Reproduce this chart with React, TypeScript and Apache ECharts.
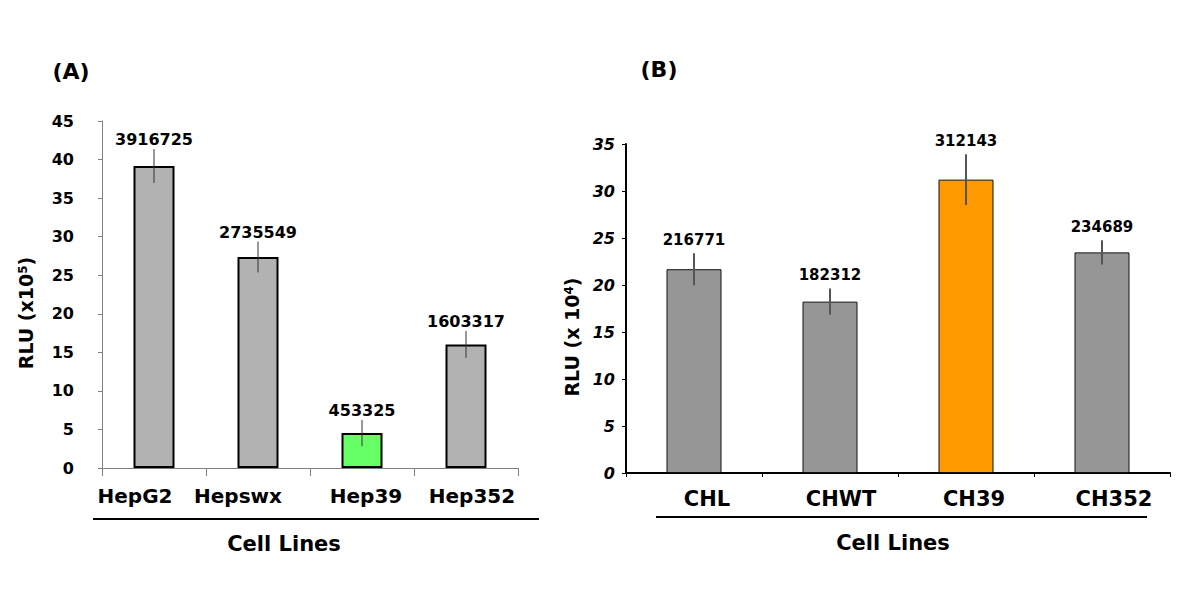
import React, { useEffect, useRef } from "react";
import * as echarts from "echarts";

// Panel A data
const catsA = ["HepG2", "Hepswx", "Hep39", "Hep352"];
const labelsA = ["3916725", "2735549", "453325", "1603317"];
const valuesA = [39.17, 27.36, 4.53, 16.03]; // RLU x10^5
const errA = [2.2, 2.0, 1.7, 1.75];
const colorsA = ["#b2b2b2", "#b2b2b2", "#66ff66", "#b2b2b2"];
const ticksA = { min: 0, max: 45, interval: 5 };

// Panel B data
const catsB = ["CHL", "CHWT", "CH39", "CH352"];
const labelsB = ["216771", "182312", "312143", "234689"];
const valuesB = [21.68, 18.23, 31.21, 23.47]; // RLU x10^4
const errB = [1.7, 1.4, 2.7, 1.3];
const colorsB = ["#969696", "#969696", "#ff9900", "#969696"];
const ticksB = { min: 0, max: 35, interval: 5 };

// horizontal nudges of category labels (px, + = right)
const shiftA = [-19, -20, 4, 6];
const shiftB = [13, 11, 8, 12];

const FONT = "DejaVu Sans";

function shiftedRich(shifts: number[], fontSize: number) {
  const rich: any = {};
  shifts.forEach((d, i) => {
    rich["l" + i] = {
      fontFamily: FONT,
      fontWeight: "bold",
      fontSize,
      color: "#000",
      padding: d < 0 ? [0, -2 * d, 0, 0] : [0, 0, 0, 2 * d],
    };
  });
  return rich;
}

function errSeries(xAxisIndex: number, yAxisIndex: number, vals: number[], errs: number[], labels: string[], stroke: string, lw: number, fs: number, gap: number) {
  return {
    type: "custom",
    xAxisIndex,
    yAxisIndex,
    z: 5,
    data: vals.map((v, i) => [i, v, errs[i]]),
    renderItem: (params: any, api: any) => {
      const x = api.value(0);
      const v = api.value(1);
      const e = api.value(2);
      const top = api.coord([x, v + e]);
      const bot = api.coord([x, v - e]);
      return {
        type: "group",
        children: [
          {
            type: "line",
            shape: { x1: top[0], y1: top[1], x2: bot[0], y2: bot[1] },
            style: { stroke, lineWidth: lw },
          },
          {
            type: "text",
            x: top[0],
            y: top[1] - gap,
            style: {
              text: labels[params.dataIndex],
              align: "center",
              verticalAlign: "bottom",
              fontFamily: FONT,
              fontWeight: "bold",
              fontSize: fs,
              fill: "#000",
            },
          },
        ],
      };
    },
  };
}

export default function App() {
  const ref = useRef<HTMLDivElement>(null);
  useEffect(() => {
    if (!ref.current) return;
    const chart = echarts.init(ref.current, null, { renderer: "svg" });
    const option: any = {
      animation: false,
      backgroundColor: "#ffffff",
      grid: [
        { left: 102, top: 121, width: 416, height: 347 },
        { left: 626, top: 144, width: 544, height: 329 },
      ],
      xAxis: [
        {
          type: "category",
          gridIndex: 0,
          data: catsA,
          axisLine: { lineStyle: { color: "#808080", width: 1 } },
          axisTick: { show: true, length: 8, lineStyle: { color: "#808080" } },
          axisLabel: {
            interval: 0,
            hideOverlap: false,
            margin: 18,
            color: "#000",
            fontFamily: FONT,
            fontWeight: "bold",
            fontSize: 20,
            formatter: (v: string, i: number) => `{l${i}|${v}}`,
            rich: shiftedRich(shiftA, 20),
          },
        },
        {
          type: "category",
          gridIndex: 1,
          data: catsB,
          axisLine: { lineStyle: { color: "#000", width: 2 } },
          axisTick: { show: true, length: 4, lineStyle: { color: "#000", width: 1 } },
          axisLabel: {
            interval: 0,
            hideOverlap: false,
            margin: 15,
            color: "#000",
            fontFamily: FONT,
            fontWeight: "bold",
            fontSize: 21,
            formatter: (v: string, i: number) => `{l${i}|${v}}`,
            rich: shiftedRich(shiftB, 21),
          },
        },
      ],
      yAxis: [
        {
          type: "value",
          gridIndex: 0,
          ...ticksA,
          splitLine: { show: false },
          axisLine: { show: true, lineStyle: { color: "#808080", width: 1 } },
          axisTick: { show: true, length: 4, lineStyle: { color: "#808080" } },
          axisLabel: { margin: 28, color: "#000", fontFamily: FONT, fontWeight: "bold", fontSize: 16 },
        },
        {
          type: "value",
          gridIndex: 1,
          ...ticksB,
          splitLine: { show: false },
          axisLine: { show: true, lineStyle: { color: "#000", width: 2 } },
          axisTick: { show: true, length: 4, lineStyle: { color: "#000" } },
          axisLabel: { margin: 11, color: "#000", fontFamily: FONT, fontWeight: "bold", fontStyle: "italic", fontSize: 16 },
        },
      ],
      series: [
        {
          type: "bar",
          xAxisIndex: 0,
          yAxisIndex: 0,
          barWidth: 41,
          data: valuesA.map((v, i) => ({ value: v, itemStyle: { color: colorsA[i] } })),
          itemStyle: { borderColor: "#000", borderWidth: 2 },
        },
        errSeries(0, 0, valuesA, errA, labelsA, "#333", 1, 16, 1),
        {
          type: "bar",
          xAxisIndex: 1,
          yAxisIndex: 1,
          barWidth: 55,
          data: valuesB.map((v, i) => ({ value: v, itemStyle: { color: colorsB[i] } })),
          itemStyle: { borderColor: "#111", borderWidth: 1 },
        },
        errSeries(1, 1, valuesB, errB, labelsB, "#555", 2, 15, 6),
      ],
      graphic: [
        {
          type: "text",
          x: 71,
          y: 71,
          style: { text: "(A)", align: "center", verticalAlign: "middle", fontFamily: FONT, fontWeight: "bold", fontSize: 22, fill: "#000" },
        },
        {
          type: "text",
          x: 659,
          y: 69,
          style: { text: "(B)", align: "center", verticalAlign: "middle", fontFamily: FONT, fontWeight: "bold", fontSize: 22, fill: "#000" },
        },
        {
          type: "text",
          x: 26,
          y: 313,
          rotation: Math.PI / 2,
          style: {
            text: "{a|RLU (x10}{s|5}{a|)}",
            align: "center",
            verticalAlign: "middle",
            rich: {
              a: { fontFamily: FONT, fontWeight: "bold", fontSize: 19, fill: "#000" },
              s: { fontFamily: FONT, fontWeight: "bold", fontSize: 12, fill: "#000", verticalAlign: "top" },
            },
          },
        },
        {
          type: "text",
          x: 572,
          y: 337,
          rotation: Math.PI / 2,
          style: {
            text: "{a|RLU (x 10}{s|4}{a|)}",
            align: "center",
            verticalAlign: "middle",
            rich: {
              a: { fontFamily: FONT, fontWeight: "bold", fontSize: 19, fill: "#000" },
              s: { fontFamily: FONT, fontWeight: "bold", fontSize: 12, fill: "#000", verticalAlign: "top" },
            },
          },
        },
        {
          type: "line",
          shape: { x1: 93, y1: 519, x2: 539, y2: 519 },
          style: { stroke: "#000", lineWidth: 2 },
        },
        {
          type: "line",
          shape: { x1: 656, y1: 517, x2: 1147, y2: 517 },
          style: { stroke: "#000", lineWidth: 2 },
        },
        {
          type: "text",
          x: 284,
          y: 544,
          style: { text: "Cell Lines", align: "center", verticalAlign: "middle", fontFamily: FONT, fontWeight: "bold", fontSize: 21, fill: "#000" },
        },
        {
          type: "text",
          x: 893,
          y: 543,
          style: { text: "Cell Lines", align: "center", verticalAlign: "middle", fontFamily: FONT, fontWeight: "bold", fontSize: 21, fill: "#000" },
        },
      ],
    };
    chart.setOption(option);
    return () => chart.dispose();
  }, []);
  return <div ref={ref} style={{ position: "fixed", left: 0, top: 0, width: 1200, height: 614 }} />;
}
